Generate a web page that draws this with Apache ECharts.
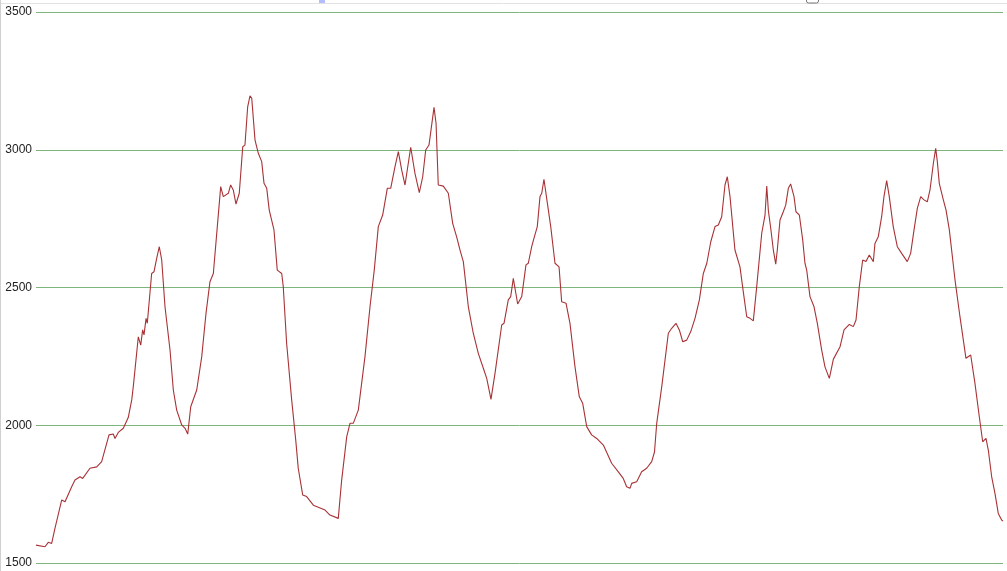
<!DOCTYPE html>
<html>
<head>
<meta charset="utf-8">
<script src="https://cdn.jsdelivr.net/npm/echarts@6/dist/echarts.min.js"></script>
<style>
html,body{margin:0;padding:0;background:#fff;}
#chart{width:1007px;height:571px;}
</style>
</head>
<body>
<div id="chart"></div>
<script>
// Distance along the profile (arbitrary units, 0..100)
const distances = [
0,0.93,1.27,1.62,1.96,2.66,3.0,3.69,4.03,4.55,4.83,5.58,6.28,6.79,7.55,7.99,8.17,8.51,8.69,9.03,
9.54,9.9,10.06,10.58,10.83,11.03,11.17,11.38,11.51,11.96,12.2,12.48,12.75,13.0,13.34,13.86,14.2,14.55,15.07,15.41,
15.69,16.0,16.62,17.14,17.58,17.99,18.34,18.75,19.1,19.37,19.89,20.13,20.4,20.68,21.02,21.38,21.61,21.89,22.13,22.31,
22.65,22.99,23.34,23.58,23.86,24.12,24.61,24.95,25.41,25.57,25.92,26.44,26.86,27.12,27.58,27.99,28.68,29.89,30.4,31.26,
31.61,32.13,32.47,32.81,33.33,34.02,34.54,34.98,35.4,35.85,36.33,36.68,37.12,37.47,37.82,38.16,38.75,39.19,39.64,39.99,
40.3,40.64,41.16,41.37,41.6,42.12,42.64,43.09,43.5,43.85,44.19,44.71,45.22,45.74,46.26,46.61,47.05,47.47,48.16,48.4,
48.84,49.09,49.36,49.53,49.81,50.23,50.67,50.91,51.26,51.5,51.84,52.12,52.3,52.53,52.88,53.23,53.67,53.85,54.09,54.36,
54.81,55.22,55.74,56.18,56.53,56.95,57.46,57.98,58.67,59.53,60.22,60.73,61.08,61.43,61.6,62.12,62.63,63.15,63.67,63.96,
64.19,64.71,65.39,65.74,66.18,66.53,66.88,67.29,67.71,68.15,68.6,69.01,69.37,69.78,70.22,70.56,70.91,71.25,71.49,71.77,
72.28,72.8,73.14,73.5,73.84,74.18,74.53,75.05,75.39,75.57,75.73,75.98,76.25,76.5,76.66,76.94,77.28,77.53,77.8,78.04,
78.39,78.59,78.94,79.29,79.52,79.7,80.04,80.46,80.8,81.25,81.59,82.04,82.46,83.15,83.56,84.11,84.52,84.8,85.14,85.49,
85.83,86.17,86.59,86.76,87.1,87.45,87.69,87.97,88.24,88.65,89.07,89.52,90.1,90.45,90.8,91.14,91.49,91.83,92.17,92.45,
92.8,93.04,93.21,93.41,93.83,94.11,94.45,95.04,95.55,96.17,96.66,97.1,97.55,97.9,98.24,98.48,98.83,99.17,99.51,99.86,100
];
// Elevation values (m)
const elevations = [
1565,1559,1575,1571,1626,1729,1722,1777,1801,1813,1807,1844,1849,1868,1965,1968,1952,1974,1976,1989,
2028,2092,2140,2321,2291,2346,2328,2388,2370,2551,2557,2606,2648,2600,2430,2273,2128,2055,2001,1989,
1968,2067,2128,2249,2406,2521,2551,2721,2866,2830,2842,2872,2854,2803,2842,3011,3017,3156,3196,3187,
3035,2987,2957,2878,2860,2781,2709,2563,2551,2503,2297,2092,1946,1844,1747,1741,1710,1692,1674,1662,
1801,1958,2007,2007,2055,2249,2430,2563,2721,2763,2860,2860,2938,2993,2926,2872,3009,2914,2844,2902,
2999,3017,3154,3096,2872,2868,2842,2733,2684,2636,2594,2430,2334,2261,2207,2170,2094,2189,2364,2370,
2455,2467,2533,2533,2440,2467,2582,2588,2648,2679,2721,2830,2842,2893,2806,2721,2588,2594,2575,2448,
2443,2370,2212,2104,2080,1995,1965,1952,1928,1862,1831,1807,1777,1771,1789,1795,1831,1844,1868,1903,
2007,2140,2334,2352,2370,2346,2303,2309,2340,2388,2455,2551,2588,2666,2721,2727,2757,2872,2902,2830,
2636,2575,2485,2394,2388,2379,2503,2697,2763,2868,2781,2715,2636,2585,2636,2745,2775,2799,2860,2876,
2830,2775,2763,2672,2588,2563,2467,2430,2370,2273,2212,2170,2240,2285,2346,2366,2358,2382,2503,2600,
2594,2618,2594,2660,2684,2757,2830,2888,2830,2721,2648,2624,2594,2624,2709,2787,2830,2818,2811,2854,
2951,3005,2957,2878,2818,2781,2709,2527,2394,2243,2255,2152,2031,1940,1952,1910,1813,1753,1680,1656,1652
];
// Y axis tick settings
const yMin = 1500, yMax = 3500, yStep = 500;

const points = distances.map((d, i) => [d, elevations[i]]);

const chart = echarts.init(document.getElementById('chart'), null, {renderer: 'canvas'});
chart.setOption({
  animation: false,
  backgroundColor: '#ffffff',
  grid: {left: 36, right: 4, top: 12, bottom: 8, containLabel: false},
  xAxis: {
    type: 'value', min: 0, max: 100,
    show: false
  },
  yAxis: {
    type: 'value', min: yMin, max: yMax, interval: yStep,
    axisLine: {show: false},
    axisTick: {show: false},
    axisLabel: {
      color: '#222222', fontSize: 12, margin: 4,
      fontFamily: 'Liberation Sans, Arial, sans-serif',
      formatter: (v) => String(v)
    },
    splitLine: {lineStyle: {color: '#7db57d', width: 1}}
  },
  graphic: [
    {type: 'line', shape: {x1: 0, y1: 3.5, x2: 1007, y2: 3.5}, style: {stroke: '#e2e2e2', lineWidth: 1}, silent: true},
    {type: 'line', shape: {x1: 0.5, y1: 0, x2: 0.5, y2: 571}, style: {stroke: '#d0d0d0', lineWidth: 1}, silent: true},
    {type: 'rect', shape: {x: 319, y: 0, width: 6, height: 3}, style: {fill: '#b4bcff'}, silent: true},
    {type: 'rect', shape: {x: 806.5, y: -8, width: 12, height: 11, r: 2}, style: {fill: 'none', stroke: '#777', lineWidth: 1}, silent: true}
  ],
  series: [{
    type: 'line',
    data: points,
    showSymbol: false,
    symbol: 'none',
    smooth: false,
    lineStyle: {color: '#a83236', width: 1.1}
  }]
});
</script>
</body>
</html>
